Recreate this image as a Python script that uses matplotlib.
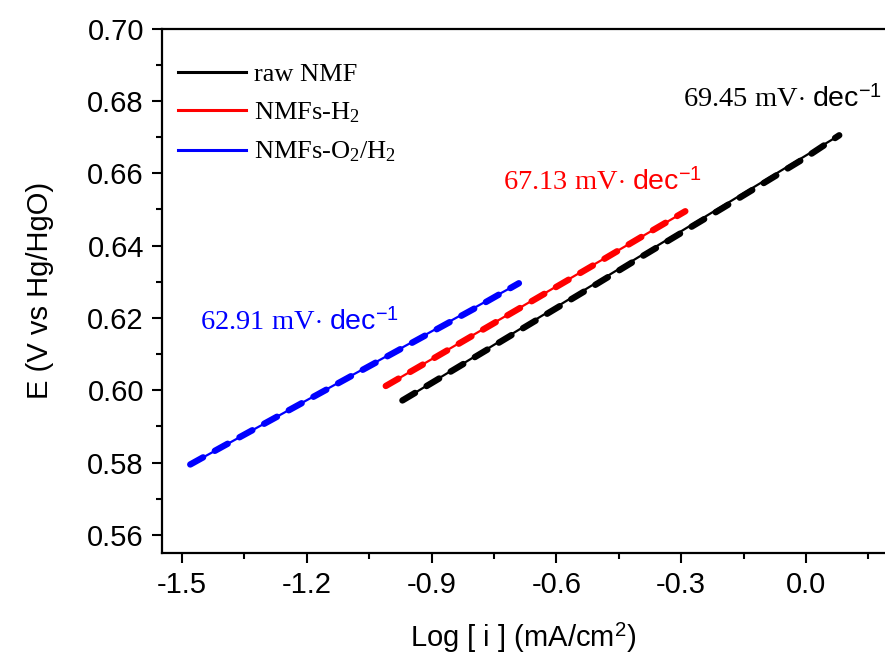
import matplotlib.pyplot as plt
from matplotlib.ticker import MultipleLocator, FuncFormatter

plt.rcParams['font.family'] = ['Liberation Sans', 'DejaVu Sans']
plt.rcParams['mathtext.fontset'] = 'custom'
plt.rcParams['mathtext.rm'] = 'Liberation Serif'
plt.rcParams['mathtext.it'] = 'Liberation Serif:italic'
plt.rcParams['mathtext.sf'] = 'Liberation Sans'

# measured Tafel data (log i, E)
raw_x = [-0.97, -0.90, -0.80, -0.70, -0.60, -0.50, -0.40, -0.30, -0.20, -0.10, 0.00, 0.08]
raw_E = [0.5972, 0.6020, 0.6089, 0.6158, 0.6227, 0.6296, 0.6366, 0.6435, 0.6504, 0.6574, 0.6644, 0.6705]

h2_x = [-1.01, -0.90, -0.80, -0.70, -0.60, -0.50, -0.40, -0.29]
h2_E = [0.6012, 0.6085, 0.6152, 0.6219, 0.6286, 0.6353, 0.6421, 0.6495]

o2h2_x = [-1.48, -1.40, -1.30, -1.20, -1.10, -1.00, -0.90, -0.80, -0.69]
o2h2_E = [0.5795, 0.5846, 0.5909, 0.5972, 0.6035, 0.6098, 0.6161, 0.6224, 0.6296]

# linear fits (end points)
raw_fit_x = [-0.97, 0.08]
raw_fit_E = [0.5972, 0.6705]
h2_fit_x = [-1.01, -0.29]
h2_fit_E = [0.6012, 0.6495]
o2h2_fit_x = [-1.48, -0.69]
o2h2_fit_E = [0.5795, 0.6296]

labels = ['raw NMF', r'NMFs-H$_2$', r'NMFs-O$_2$/H$_2$']
colors = ['black', 'red', 'blue']
slopes = ['69.45', '67.13', '62.91']
slope_pos = [(-0.296, 0.6785), (-0.728, 0.6555), (-1.457, 0.6168)]

fig = plt.figure(figsize=(8.85, 6.64), dpi=100)
ax = fig.add_axes([0.183, 0.167, 0.817, 0.790])

series = [(raw_x, raw_E, raw_fit_x, raw_fit_E),
          (h2_x, h2_E, h2_fit_x, h2_fit_E),
          (o2h2_x, o2h2_E, o2h2_fit_x, o2h2_fit_E)]

for (x, E, fx, fE), c, lab in zip(series, colors, labels):
    ax.plot(x, E, color=c, lw=4.6, ls=(0, (2.3, 2.1)), dash_capstyle='round')
    ax.plot(fx, fE, color=c, lw=1.6, label=lab)

for s, c, (px, py) in zip(slopes, colors, slope_pos):
    ax.text(px, py, s + r' mV$\cdot$ $\mathsf{dec}^{\mathsf{-1}}$', color=c,
            fontsize=20.5, family='Liberation Serif', ha='left', va='baseline')

def fmt_x(v, pos):
    s = '%.1f' % v
    return '0.0' if s == '-0.0' else s

ax.set_xlim(-1.548, 0.19)
ax.set_ylim(0.555, 0.70)
ax.xaxis.set_major_locator(MultipleLocator(0.3))
ax.xaxis.set_minor_locator(MultipleLocator(0.15))
ax.yaxis.set_major_locator(MultipleLocator(0.02))
ax.yaxis.set_minor_locator(MultipleLocator(0.01))
ax.xaxis.set_major_formatter(FuncFormatter(fmt_x))
ax.yaxis.set_major_formatter(FuncFormatter(lambda v, pos: '%.2f' % v))
ax.tick_params(which='both', direction='out', width=1.5, labelsize=21)
ax.tick_params(which='major', length=7, pad=6)
ax.tick_params(which='minor', length=4)
ax.spines['right'].set_visible(False)
for sp in ['left', 'bottom', 'top']:
    ax.spines[sp].set_linewidth(1.6)

ax.set_xlabel(r'Log [ i ] (mA/cm$^{\mathsf{2}}$)', fontsize=21, labelpad=16)
ax.set_ylabel('E (V vs Hg/HgO)', fontsize=21, labelpad=24)

leg = ax.legend(loc='upper left', frameon=False, handlelength=2.6,
                handletextpad=0.3, labelspacing=0.55, borderaxespad=0.2,
                bbox_to_anchor=(0.0, 0.965),
                prop={'family': 'Liberation Serif', 'size': 19})
for line in leg.get_lines():
    line.set_linewidth(2.2)

fig.savefig('out.png', dpi=100)
